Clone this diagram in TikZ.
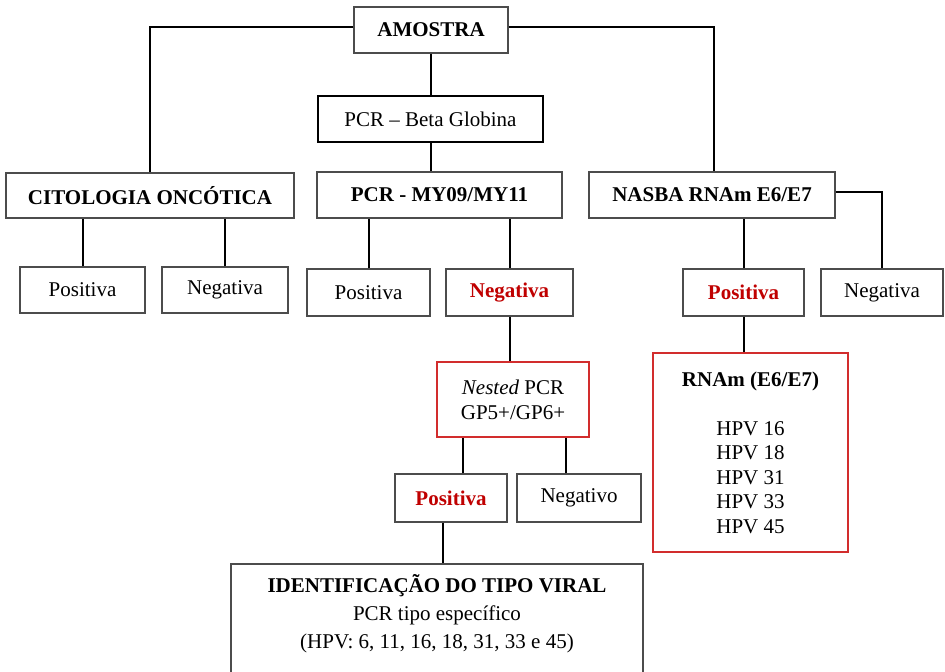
\documentclass[tikz,border=0pt]{standalone}
\usepackage{fontspec}
\setmainfont{Liberation Serif}
\begin{document}
\begin{tikzpicture}[x=0.5pt,y=-0.5pt,
  box/.style={draw=black!70,line width=0.6pt,rectangle,inner sep=0pt,align=center,font=\fontsize{10.5}{12.5}\selectfont},
  redbox/.style={box,draw={rgb,255:red,210;green,45;blue,45}},
  conn/.style={draw=black,line width=1pt},
  redtxt/.style={text={rgb,255:red,192;green,0;blue,0}}]
\clip (0,0) rectangle (945,671);
\fill[white] (0,0) rectangle (945,671);
% nodes
\node[box,minimum width=77pt,minimum height=23pt] (amostra) at (431,30) {\textbf{AMOSTRA}};
\node[box,draw=black,line width=1.1pt,minimum width=112.5pt,minimum height=23pt] (beta) at (430.5,119) {PCR – Beta Globina};
\node[box,minimum width=144pt,minimum height=22.5pt] (cito) at (150,195.5) {\textbf{CITOLOGIA ONCÓTICA}};
\node[box,minimum width=122.5pt,minimum height=23pt] (my) at (439.5,195) {\textbf{PCR - MY09/MY11}};
\node[box,minimum width=123pt,minimum height=23pt] (nasba) at (712,195) {\textbf{NASBA RNAm E6/E7}};
\node[box,minimum width=62.5pt,minimum height=23pt] (cpos) at (82.5,290) {Positiva};
\node[box,minimum width=63pt,minimum height=23pt] (cneg) at (225,290) {Negativa};
\node[box,minimum width=61.5pt,minimum height=23.5pt] (mpos) at (368.5,292.5) {Positiva};
\node[box,redtxt,minimum width=63.5pt,minimum height=23.5pt] (mneg) at (509.5,292.5) {\textbf{Negativa}};
\node[box,redtxt,minimum width=60.5pt,minimum height=23.5pt] (npos) at (743.5,292.5) {\textbf{Positiva}};
\node[box,minimum width=61pt,minimum height=23.5pt] (nneg) at (882,292.5) {Negativa};
\node[redbox,minimum width=76pt,minimum height=37.5pt] (nested) at (513,399.5) {\textit{Nested} PCR\\GP5+/GP6+};
\node[box,redtxt,minimum width=56pt,minimum height=24pt] (gpos) at (451,498) {\textbf{Positiva}};
\node[box,minimum width=62pt,minimum height=24pt] (gneg) at (579,498) {Negativo};
\node[redbox,minimum width=97.5pt,minimum height=99.5pt,font=\fontsize{10.5}{12.25}\selectfont] (rnam) at (750.5,452.5)
  {\textbf{RNAm (E6/E7)}\\[12.3pt]HPV 16\\HPV 18\\HPV 31\\HPV 33\\HPV 45};
\node[box,minimum width=206pt,minimum height=60pt] (ident) at (437,624) {};
\node[align=center,inner sep=0pt,font=\fontsize{10.5}{14}\selectfont] (identtxt) at (437,614)
  {\textbf{IDENTIFICAÇÃO DO TIPO VIRAL}\\PCR tipo específico\\(HPV: 6, 11, 16, 18, 31, 33 e 45)};
% connectors
\draw[conn] ([yshift=1.5pt]amostra.west) -| (cito.north);
\draw[conn] ([yshift=1.5pt]amostra.east) -| ([xshift=1pt]nasba.north);
\draw[conn] (amostra.south) -- (amostra.south |- beta.north);
\draw[conn] (beta.south) -- (beta.south |- my.north);
\draw[conn] (cpos.north) -- (cpos.north |- cito.south);
\draw[conn] (cneg.north) -- (cneg.north |- cito.south);
\draw[conn] (mpos.north) -- (mpos.north |- my.south);
\draw[conn] (mneg.north) -- (mneg.north |- my.south);
\draw[conn] (npos.north) -- (npos.north |- nasba.south);
\draw[conn] ([yshift=1.5pt]nasba.east) -| (nneg.north);
\draw[conn] (mneg.south) -- (mneg.south |- nested.north);
\draw[conn] ([xshift=6pt]gpos.north) -- ([xshift=6pt]gpos.north |- nested.south);
\draw[conn] ([xshift=-6.5pt]gneg.north) -- ([xshift=-6.5pt]gneg.north |- nested.south);
\draw[conn] (npos.south) -- (npos.south |- rnam.north);
\draw[conn] ([xshift=-4pt]gpos.south) -- ([xshift=-4pt]gpos.south |- ident.north);
\end{tikzpicture}
\end{document}
